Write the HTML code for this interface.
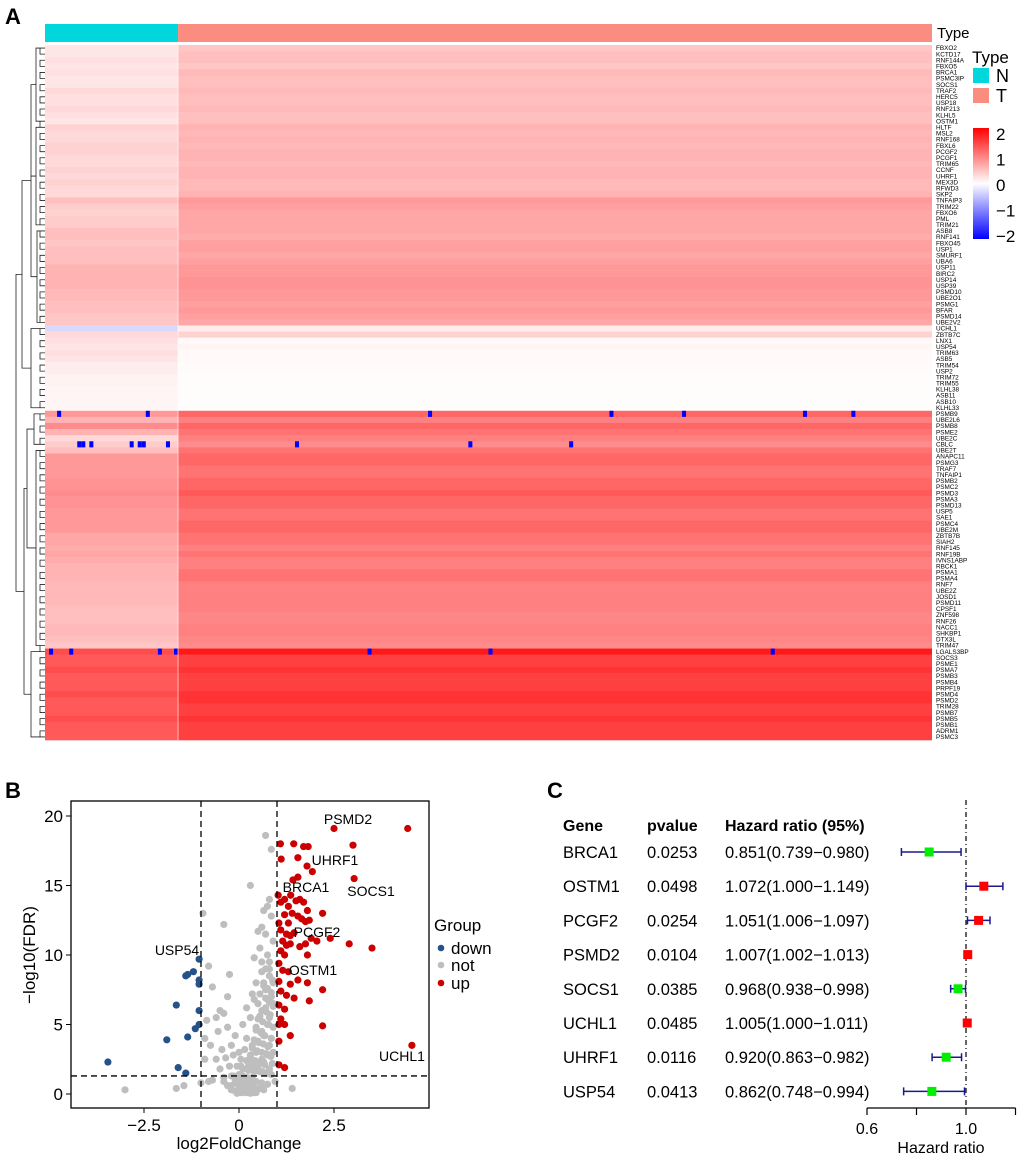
<!DOCTYPE html>
<html><head><meta charset="utf-8"><style>
html,body{margin:0;padding:0;background:#fff}
svg{display:block;font-family:"Liberation Sans",Arial,sans-serif}
</style></head><body>
<svg id="fig" width="1020" height="1157" viewBox="0 0 1020 1157" xmlns="http://www.w3.org/2000/svg">
<text x="5" y="24" font-size="22" font-weight="bold">A</text>
<text x="5" y="798" font-size="22" font-weight="bold">B</text>
<text x="547" y="798" font-size="22" font-weight="bold">C</text>
<g id="heat"></g>
<g id="dendro"></g>
<g id="genes"></g>
<g id="heatlegend"></g>
<g id="volcano"></g>
<g id="forest"></g>
</svg>
<script>
const genes=["FBXO2","KCTD17","RNF144A","FBXO5","BRCA1","PSMC3IP","SOCS1","TRAF2","HERC5","USP18","RNF213","KLHL5","OSTM1","HLTF","MSL2","RNF168","FBXL6","PCGF2","PCGF1","TRIM65","CCNF","UHRF1","MEX3D","RFWD3","SKP2","TNFAIP3","TRIM22","FBXO6","PML","TRIM21","ASB8","RNF141","FBXO45","USP1","SMURF1","UBA6","USP11","BIRC2","USP14","USP39","PSMD10","UBE2O1","PSMG1","BFAR","PSMD14","UBE2V2","UCHL1","ZBTB7C","LNX1","USP54","TRIM63","ASB5","TRIM54","USP2","TRIM72","TRIM55","KLHL38","ASB11","ASB10","KLHL33","PSMB9","UBE2L6","PSMB8","PSME2","UBE2C","CBLC","UBE2T","ANAPC11","PSMG3","TRAF7","TNFAIP1","PSMB2","PSMC2","PSMD3","PSMA3","PSMD13","USP5","SAE1","PSMC4","UBE2M","ZBTB7B","SIAH2","RNF145","RNF19B","IVNS1ABP","RBCK1","PSMA1","PSMA4","RNF7","UBE2Z","JOSD1","PSMD11","CPSF1","ZNF598","RNF26","NACC1","SHKBP1","DTX3L","TRIM47","LGALS3BP","SOCS3","PSME1","PSMA7","PSMB3","PSMB4","PRPF19","PSMD4","PSMD2","TRIM28","PSMB7","PSMB5","PSMB1","ADRM1","PSMC3"];
const tumorMean=[0.45,0.5,0.5,0.45,0.55,0.5,0.5,0.55,0.5,0.5,0.55,0.5,0.5,
0.6,0.55,0.6,0.55,0.6,0.6,0.55,0.6,0.6,0.55,0.55,0.6,
0.8,0.75,0.7,0.7,
0.7,0.7,0.65,0.75,0.75,0.7,0.75,0.8,0.8,0.85,0.85,0.8,0.8,0.75,0.8,0.75,0.7,
0.15,0.35,
0.05,0.08,0.05,0.05,0.03,0.03,0.02,0.02,0.02,0.02,0.02,0.02,
1.2,1.0,1.2,1.1,1.0,0.9,1.1,1.2,1.2,1.1,1.1,1.2,1.2,1.3,1.2,1.2,1.1,1.1,1.2,1.2,1.1,1.1,1.0,1.1,1.0,1.0,1.1,1.1,1.0,1.0,1.0,1.0,1.0,0.95,0.95,1.0,1.0,0.95,0.9,
1.8,
1.5,1.5,1.6,1.5,1.5,1.5,1.6,1.6,1.5,1.5,1.6,1.5,1.5,1.5];
const normalMean=[0.2,0.2,0.25,0.2,0.25,0.2,0.2,0.3,0.25,0.25,0.3,0.25,0.2,
0.35,0.3,0.3,0.35,0.35,0.3,0.3,0.35,0.3,0.35,0.3,0.3,
0.5,0.4,0.35,0.4,
0.4,0.5,0.5,0.45,0.5,0.5,0.5,0.6,0.6,0.6,0.6,0.55,0.55,0.5,0.5,0.45,0.45,
-0.3,0.3,
0.25,0.2,0.25,0.2,0.15,0.15,0.1,0.1,0.08,0.08,0.08,0.08,
0.8,0.6,0.9,0.6,0.3,0.4,0.5,0.8,0.8,0.8,0.8,0.85,0.85,0.9,0.85,0.85,0.8,0.8,0.8,0.8,0.7,0.7,0.65,0.7,0.65,0.6,0.6,0.6,0.55,0.55,0.55,0.55,0.5,0.5,0.5,0.55,0.55,0.5,0.45,
1.4,
1.3,1.3,1.4,1.3,1.3,1.3,1.4,1.3,1.3,1.3,1.4,1.3,1.3,1.3];
const outlierRows=[61,61,61,61,61,61,61,66,66,66,66,66,66,66,66,66,66,100,100,100,100,100,100,100];
const outlierCols=[3,25,95,140,158,188,200,8,9,11,21,23,24,30,62,105,130,1,6,28,32,80,110,180];
const nCols=220, nNormal=33;
// volcano data
const upX=[2.5,4.44,1.09,1.44,3.0,1.7,1.82,1.11,1.55,1.79,1.93,3.03,1.42,1.55,1.03,1.36,1.1,1.2,1.3,1.5,1.6,1.7,1.8,1.55,1.65,1.75,1.85,1.2,1.4,2.2,1.05,1.3,1.1,1.25,1.35,1.45,1.9,2.4,2.05,1.15,1.25,1.35,1.6,1.75,2.9,3.5,1.1,1.2,1.8,1.05,1.15,1.3,1.05,1.35,1.55,1.8,2.2,1.1,1.25,1.45,1.85,1.05,1.2,1.1,1.2,1.05,2.2,1.35,1.05,4.55,1.05,1.2];
const upY=[19.1,19.1,18.0,18.0,17.9,17.8,17.8,16.9,17.0,16.4,16.0,15.5,15.4,15.6,14.3,14.3,13.8,14.0,13.5,13.9,14.0,13.8,13.2,12.8,12.6,12.4,12.5,12.9,13.0,13.0,12.3,12.3,11.8,11.5,11.4,11.6,11.2,11.2,11.0,11.0,10.7,10.8,10.6,10.8,10.8,10.5,10.3,10.0,10.0,9.4,8.9,8.8,8.1,7.9,8.2,8.0,7.5,7.4,7.1,6.9,6.7,6.4,6.1,5.4,5.0,5.0,4.9,4.2,3.8,3.5,2.1,1.9];
const downX=[-1.05,-1.2,-1.35,-1.4,-1.05,-1.05,-1.65,-1.05,-1.05,-1.15,-1.35,-1.9,-3.45,-1.6,-1.4];
const downY=[9.7,8.8,8.6,8.5,8.2,7.9,6.4,6.0,5.0,4.7,4.1,3.9,2.3,1.9,1.5];
const notX=[0.7,0.85,0.3,-0.95,-0.4,0.5,0.65,0.75,0.8,0.6,0.7,0.85,0.55,0.75,0.9,0.8,0.4,-0.8,-0.25,0.45,
0.6,0.7,0.8,0.9,-0.3,0.35,0.5,0.65,0.75,0.85,-0.7,-0.5,0.2,0.4,0.55,0.7,0.8,0.9,-0.85,-0.6,
-0.4,0.1,0.3,0.45,0.6,0.75,0.85,-0.9,-0.55,-0.3,-0.1,0.2,0.35,0.5,0.65,0.8,0.9,-0.75,-0.45,-0.2,
0.0,0.15,0.3,0.45,0.6,0.75,0.88,-0.6,-0.35,-0.15,0.05,0.2,0.35,0.5,0.65,0.8,-0.9,-0.5,-0.25,-0.05,
0.1,0.25,0.4,0.55,0.7,0.85,-0.7,-0.4,-0.2,0.0,0.15,0.3,0.45,0.6,0.75,-0.3,-0.1,0.05,0.2,0.35,
0.5,0.65,-0.2,0.0,0.1,0.25,0.4,0.55,-0.1,0.05,0.15,0.3,0.45,-0.05,0.1,0.2,0.35,-3.0,-1.65,-1.45,
-1.0,-0.8,-0.4,0.95,1.4,0.6,0.25,-0.15,0.05,0.15,
0.6,0.7,0.8,0.88,0.65,0.75,0.85,0.55,0.7,0.8,0.9,0.6,0.72,0.82,0.5,0.62,0.78,0.9,0.45,0.58,
0.68,0.85,0.4,0.52,0.64,0.76,0.35,0.48,0.6,0.72,0.84,0.3,0.42,0.55,0.68,0.25,0.38,0.5,0.62,0.75,
0.0,0.1,0.2,0.3,-0.1,0.05,0.15,0.25,0.35,-0.2,0.0,0.12,0.22,0.32,0.42,0.18,0.28,0.08,-0.05,0.38];
const notY=[18.6,17.6,15.0,13.0,12.2,11.7,13.2,13.5,14.0,12.0,11.5,12.8,10.5,10.0,11.0,9.0,9.8,9.2,8.6,8.0,
8.8,7.5,9.5,8.0,7.0,7.2,6.5,7.8,6.8,7.0,7.7,6.0,6.2,6.8,5.6,6.2,5.5,6.5,5.3,5.5,
5.8,5.0,5.5,4.8,4.5,5.0,4.0,4.0,4.5,4.8,4.2,4.0,3.5,3.8,4.2,3.5,3.0,3.5,3.2,3.5,
3.0,3.2,2.8,3.0,2.5,2.8,2.2,2.5,2.6,2.8,2.5,2.4,2.2,2.0,2.3,1.8,2.5,1.8,2.0,2.0,
1.8,1.7,1.6,1.6,1.5,1.4,1.0,1.2,1.3,1.2,1.1,1.0,0.9,0.8,0.7,0.6,0.8,0.6,0.5,0.5,
0.4,0.3,0.3,0.2,0.3,0.2,0.1,0.4,0.2,0.1,0.15,0.05,0.1,0.05,0.1,0.1,1.2,0.3,0.4,0.6,
0.8,0.9,0.9,0.9,0.4,0.7,0.3,1.3,2.0,1.1,
9.5,9.0,8.5,8.2,8.0,7.6,7.3,7.2,6.9,6.6,6.3,6.0,5.9,5.7,5.4,5.2,5.0,4.8,4.6,4.4,
4.2,4.0,3.9,3.7,3.6,3.4,3.3,3.1,3.0,2.9,2.7,2.6,2.4,2.3,2.1,2.0,1.9,1.8,1.6,1.5,
1.4,1.3,1.2,1.1,1.0,0.9,0.85,0.8,0.7,0.6,0.55,0.5,0.45,0.4,0.35,0.3,0.25,0.2,0.15,1.9];
const xTicks=[-2.5,0,2.5], yTicks=[0,5,10,15,20];
// forest data
const fGenes=["BRCA1","OSTM1","PCGF2","PSMD2","SOCS1","UCHL1","UHRF1","USP54"];
const pvals=["0.0253","0.0498","0.0254","0.0104","0.0385","0.0485","0.0116","0.0413"];
const hr=[0.851,1.072,1.051,1.007,0.968,1.005,0.920,0.862];
const hrLo=[0.739,1.000,1.006,1.002,0.938,1.000,0.863,0.748];
const hrHi=[0.980,1.149,1.097,1.013,0.998,1.011,0.982,0.994];
const hrTicks=[0.6,0.8,1.0,1.2];

const NS="http://www.w3.org/2000/svg";
function mk(parent,tag,attrs,txt){const e=document.createElementNS(NS,tag);for(const k in attrs)e.setAttribute(k,attrs[k]);if(txt!==undefined)e.textContent=txt;parent.appendChild(e);return e;}
function col(v){v=Math.max(-2,Math.min(2,v));if(v>=0){const g=Math.round(255*(1-v/2));return `rgb(255,${g},${g})`;}const g=Math.round(255*(1+v/2));return `rgb(${g},${g},255)`;}

// Heatmap
const hx0=45,hx1=932,hy0=45,hy1=740;
const rowH=(hy1-hy0)/genes.length, colW=(hx1-hx0)/nCols, xSplit=hx0+nNormal*colW;
const heat=document.getElementById('heat');
let tb=mk(heat,'rect',{x:hx0,y:24,width:xSplit-hx0,height:18,fill:'#00D7DC'});

tb=mk(heat,'rect',{x:xSplit,y:24,width:hx1-xSplit,height:18,fill:'#FA8C80'});

const tt=mk(heat,'text',{x:937,y:38,'font-size':15},'Type');

const gl=document.getElementById('genes');
genes.forEach((g,i)=>{
  const y=hy0+i*rowH;
  let r=mk(heat,'rect',{x:hx0,y:y,width:xSplit-hx0+0.3,height:rowH+0.3,fill:col(normalMean[i])});
  
  r=mk(heat,'rect',{x:xSplit,y:y,width:hx1-xSplit,height:rowH+0.3,fill:col(tumorMean[i])});
  
  const t=mk(gl,'text',{x:936,y:y+rowH/2+2.2,'font-size':6.4},g);
  
});
outlierRows.forEach((r,k)=>{
  const c=mk(heat,'rect',{x:hx0+outlierCols[k]*colW,y:hy0+(r-1)*rowH,width:colW,height:rowH,fill:'#0000FF'});
  
});
const sep=mk(heat,'line',{x1:xSplit,y1:hy0,x2:xSplit,y2:hy1,stroke:'#fff','stroke-width':1,opacity:0.6});


// dendrogram (simplified)
const dg=document.getElementById('dendro');
let d='';
const ry=i=>hy0+(i+0.5)*rowH;
for(let i=0;i<genes.length;i+=2){const a=ry(i),b=ry(Math.min(i+1,genes.length-1));d+=`M45 ${a}H40V${b}H45 `;}
const clusters=[[0,12,36],[13,29,36],[30,45,37],[46,59,31],[60,65,34],[66,98,36],[99,113,31]];
clusters.forEach(c=>{d+=`M40 ${ry(c[0])}H${c[2]}V${ry(c[1])}H40 `;});
const mid=c=>(ry(c[0])+ry(c[1]))/2;
d+=`M36 ${mid(clusters[0])}H31V${mid(clusters[2])}H37 M31 ${mid(clusters[1])}H36 `;
d+=`M34 ${mid(clusters[4])}H27V${mid(clusters[5])}H36 `;
d+=`M31 ${mid(clusters[3])}H22V${(mid(clusters[0])+mid(clusters[2]))/2}H31 `;
d+=`M27 ${(mid(clusters[4])+mid(clusters[5]))/2}H24V${mid(clusters[6])}H31 `;
const top1=(mid(clusters[3])+(mid(clusters[0])+mid(clusters[2]))/2)/2, top2=((mid(clusters[4])+mid(clusters[5]))/2+mid(clusters[6]))/2;
d+=`M22 ${top1}H16V${top2}H24`;
const dp=mk(dg,'path',{d:d,fill:'none',stroke:'#222','stroke-width':0.8});


// heatmap legend
const hl=document.getElementById('heatlegend');
let e=mk(hl,'text',{x:972,y:63,'font-size':17},'Type');
e=mk(hl,'rect',{x:973,y:68,width:16,height:15,fill:'#00D7DC'});
e=mk(hl,'text',{x:996,y:82,'font-size':18},'N');
e=mk(hl,'rect',{x:973,y:88,width:16,height:15,fill:'#FA8C80'});
e=mk(hl,'text',{x:996,y:102,'font-size':18},'T');
const defs=mk(hl,'defs',{});const lg=mk(defs,'linearGradient',{id:'cb',x1:0,y1:0,x2:0,y2:1});
mk(lg,'stop',{offset:'0','stop-color':'#FF0000'});mk(lg,'stop',{offset:'0.5','stop-color':'#FFFFFF'});mk(lg,'stop',{offset:'1','stop-color':'#0000FF'});
e=mk(hl,'rect',{x:973,y:128,width:16,height:111,fill:'url(#cb)'});
[2,1,0,-1,-2].forEach((v,k)=>{const t=mk(hl,'text',{x:996,y:140+k*25.5,'font-size':17},v<0?'\u2212'+(-v):String(v));});

// Volcano
const vg=document.getElementById('volcano');
const bx0=71,bx1=429,by0=801,by1=1108;
const sx=v=>239+v*38, sy=v=>1094-v*13.9;
e=mk(vg,'rect',{x:bx0,y:by0,width:bx1-bx0,height:by1-by0,fill:'none',stroke:'#000','stroke-width':1.3});
function dots(xs,ys,c,name){const n=Math.min(xs.length,ys.length);for(let i=0;i<n;i++){const p=mk(vg,'circle',{cx:sx(xs[i]),cy:sy(ys[i]),r:3.6,fill:c});}}
dots(notX,notY,'#BEBEBE','point-not');
dots(upX,upY,'#CC0000','point-up');
dots(downX,downY,'#25528A','point-down');
[[sx(-1),by0,sx(-1),by1],[sx(1),by0,sx(1),by1],[bx0,sy(1.3),bx1,sy(1.3)]].forEach(l=>{const q=mk(vg,'line',{x1:l[0],y1:l[1],x2:l[2],y2:l[3],stroke:'#000','stroke-width':1.3,'stroke-dasharray':'6,4'});});
xTicks.forEach(v=>{mk(vg,'line',{x1:sx(v),y1:by1,x2:sx(v),y2:by1+5,stroke:'#000'});const t=mk(vg,'text',{x:sx(v),y:1131,'font-size':17,'text-anchor':'middle'},v<0?'\u2212'+(-v):String(v));});
yTicks.forEach(v=>{mk(vg,'line',{x1:bx0-5,y1:sy(v),x2:bx0,y2:sy(v),stroke:'#000'});const t=mk(vg,'text',{x:63,y:sy(v)+6,'font-size':17,'text-anchor':'end'},String(v));});
e=mk(vg,'text',{x:239,y:1149,'font-size':17,'text-anchor':'middle'},'log2FoldChange');
e=mk(vg,'text',{x:0,y:0,'font-size':17,'text-anchor':'middle',transform:'translate(35,955) rotate(-90)'},'\u2212log10(FDR)');
[['PSMD2',348,824],['UHRF1',335,865],['SOCS1',371,896],['BRCA1',306,892],['PCGF2',317,937],['USP54',177,955],['OSTM1',313,975],['UCHL1',402,1061]].forEach(a=>{const t=mk(vg,'text',{x:a[1],y:a[2],'font-size':14,'text-anchor':'middle'},a[0]);});
e=mk(vg,'text',{x:434,y:931,'font-size':17},'Group');
[['down','#25528A',948],['not','#BEBEBE',965],['up','#CC0000',983]].forEach(a=>{mk(vg,'circle',{cx:441,cy:a[2],r:3.3,fill:a[1]});const t=mk(vg,'text',{x:451,y:a[2]+6,'font-size':17},a[0]);});

// Forest
const fg=document.getElementById('forest');
const fx=v=>966+(v-1)*247.5;
const rowY=i=>852+i*34.2;
[['Gene',563],['pvalue',647],['Hazard ratio (95%)',725]].forEach(a=>{const t=mk(fg,'text',{x:a[1],y:831,'font-size':16,'font-weight':'bold'},a[0]);});
e=mk(fg,'line',{x1:fx(1),y1:800,x2:fx(1),y2:1108,stroke:'#000','stroke-width':1.2,'stroke-dasharray':'5,3,1,3'});
fGenes.forEach((g,i)=>{
  const y=rowY(i);
  let t=mk(fg,'text',{x:563,y:y+6,'font-size':16.5},g);
  t=mk(fg,'text',{x:647,y:y+6,'font-size':16.5},pvals[i]);
  t=mk(fg,'text',{x:725,y:y+6,'font-size':16.5},hr[i].toFixed(3)+'('+hrLo[i].toFixed(3)+'\u2212'+hrHi[i].toFixed(3)+')');
  const l=mk(fg,'path',{d:`M${fx(hrLo[i])} ${y}H${fx(hrHi[i])}M${fx(hrLo[i])} ${y-4}V${y+4}M${fx(hrHi[i])} ${y-4}V${y+4}`,stroke:'#1A1A8C','stroke-width':1.5,fill:'none'});
  
  const s=mk(fg,'rect',{x:fx(hr[i])-4.5,y:y-4.5,width:9,height:9,fill:hr[i]>1?'#FF0000':'#00EE00'});
  
});
e=mk(fg,'line',{x1:fx(0.6),y1:1108,x2:fx(1.2),y2:1108,stroke:'#000','stroke-width':1.2});
hrTicks.forEach(v=>{mk(fg,'line',{x1:fx(v),y1:1108,x2:fx(v),y2:1115,stroke:'#000','stroke-width':1.2});});
[0.6,1.0].forEach(v=>{const t=mk(fg,'text',{x:fx(v),y:1134,'font-size':16,'text-anchor':'middle'},v.toFixed(1));});
e=mk(fg,'text',{x:941,y:1153,'font-size':16,'text-anchor':'middle'},'Hazard ratio');
</script>
</body></html>
